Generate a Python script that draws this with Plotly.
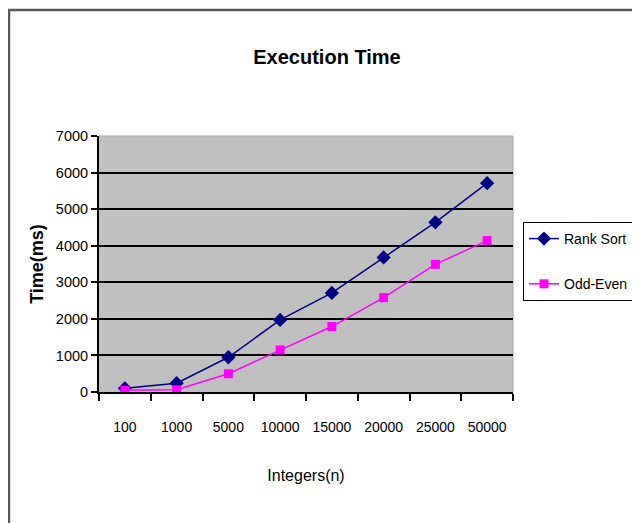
import plotly.graph_objects as go

categories = ["100", "1000", "5000", "10000", "15000", "20000", "25000", "50000"]
rank_sort = [100, 240, 950, 1970, 2710, 3680, 4640, 5710]
odd_even = [50, 60, 500, 1150, 1790, 2580, 3490, 4140]
y_ticks = [0, 1000, 2000, 3000, 4000, 5000, 6000, 7000]

# the page body adds an 8px offset; work in screen pixels and convert
OFF = 8
W, H = 640 - OFF, 523 - OFF
L, R, T, B = 99 - OFF, 513 - OFF, 136 - OFF, 392 - OFF
FONT = "Liberation Sans, Arial, sans-serif"

def px(x):
    return (x - OFF - L) / (R - L)

def py(y):
    return (B - (y - OFF)) / (B - T)

fig = go.Figure()
fig.add_trace(go.Scatter(
    x=categories, y=rank_sort, name="Rank Sort", mode="lines+markers",
    line=dict(color="#000080", width=1.5),
    marker=dict(symbol="diamond", size=11, color="#000080"),
    legendgroup="a"))
fig.add_trace(go.Scatter(
    x=categories, y=odd_even, name="Odd-Even", mode="lines+markers",
    line=dict(color="#FF00FF", width=1.5),
    marker=dict(symbol="square", size=9, color="#FF00FF"),
    legendgroup="b"))

shapes = []
frame_col = "#5a5a5a"
shapes.append(dict(type="line", xref="paper", yref="paper", x0=px(9), x1=px(9), y0=py(10), y1=py(530),
                   line=dict(color=frame_col, width=2.5)))
shapes.append(dict(type="line", xref="paper", yref="paper", x0=px(8), x1=px(650), y0=py(10), y1=py(10),
                   line=dict(color=frame_col, width=2.5)))
shapes.append(dict(type="line", xref="x domain", yref="y domain", x0=0, x1=1, y0=1, y1=1,
                   line=dict(color="#a8a8a8", width=1), layer="below"))
shapes.append(dict(type="line", xref="x domain", yref="y domain", x0=1, x1=1, y0=0, y1=1,
                   line=dict(color="#a8a8a8", width=1), layer="below"))

fig.update_layout(
    width=W, height=H,
    margin=dict(l=L, r=W - R, t=T, b=H - B, autoexpand=False),
    paper_bgcolor="white",
    plot_bgcolor="#C0C0C0",
    title=dict(text="<b>Execution Time</b>", x=(327 - OFF) / W, xref="container", xanchor="center",
               y=1 - (57 - OFF) / H, yanchor="middle",
               font=dict(family=FONT, size=20, color="black")),
    font=dict(family=FONT, color="black"),
    xaxis=dict(
        type="category", tickson="boundaries", ticks="outside", ticklen=7, tickcolor="black", tickwidth=1.5,
        showline=True, linecolor="black", linewidth=2, showgrid=False, tickangle=0, automargin=False,
        ticklabelstandoff=21,
        tickfont=dict(family=FONT, size=14, color="black"),
        title=dict(text="Integers(n)", font=dict(family=FONT, size=16, color="black"), standoff=36),
        range=[-0.5, 7.5]),
    yaxis=dict(
        range=[0, 7000], tickvals=y_ticks, ticks="outside", ticklen=6, tickcolor="black", tickwidth=1.5,
        showline=True, linecolor="black", linewidth=2, showgrid=False, zeroline=False, automargin=False,
        tickfont=dict(family=FONT, size=14.5, color="black"),
        title=dict(text="<b>Time(ms)</b>", font=dict(family=FONT, size=18, color="black"),
                   standoff=8),
        minor=dict(tickvals=[1000, 2000, 3000, 4000, 5000, 6000], showgrid=True, gridcolor="black",
                   gridwidth=2, ticklen=0)),
    legend=dict(x=px(523), y=py(222), xanchor="left", yanchor="top", bgcolor="white",
                bordercolor="black", borderwidth=1, font=dict(family=FONT, size=14, color="black"),
                tracegroupgap=24, itemwidth=30),
    shapes=shapes,
)

fig.write_html("out.html")
